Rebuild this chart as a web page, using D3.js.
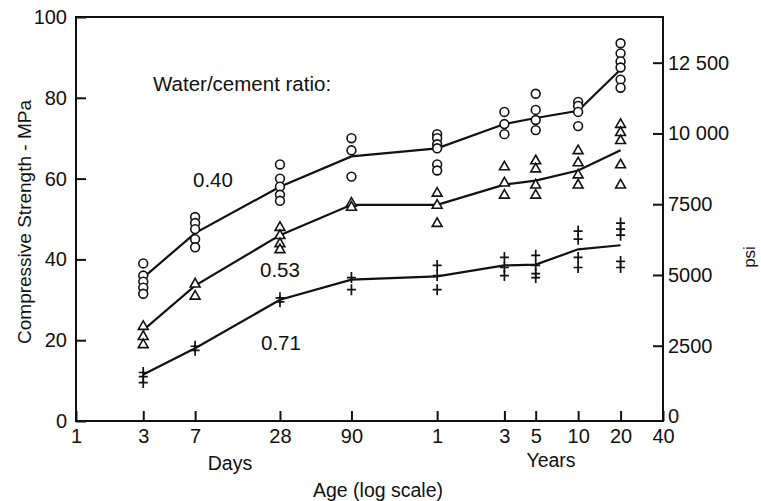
<!DOCTYPE html>
<html>
<head>
<meta charset="utf-8">
<title>compressive strength vs age</title>
<script type="text/javascript" src="https://cdn.jsdelivr.net/npm/d3@7"></script>
<style>
  body { margin: 0; background: #fff; }
  text { font-family: "Liberation Sans", Arial, Helvetica, sans-serif; fill: #111; }
</style>
</head>
<body>
<script type="text/javascript">

// ages in days (1 year = 365 days)
var ages = [3, 7, 28, 90, 365, 1095, 1826, 3652, 7305]
var tickDays = [1, 3, 7, 28, 90, 365, 1095, 1826, 3652, 7305, 14610]
var tickLabels = ["1", "3", "7", "28", "90", "1", "3", "5", "10", "20", "40"]
var mpaTicks = [0, 20, 40, 60, 80, 100]
var psiTicks = [0, 2500, 5000, 7500, 10000, 12500]
var psiLabels = ["0", "2500", "5000", "7500", "10 000", "12 500"]

// mean curves, MPa
var line040 = [35.5, 46.5, 58, 65.5, 67.5, 73.5, 75, 76.8, 87]
var line053 = [22.5, 33.5, 46, 53.5, 53.5, 58.5, 59.5, 62, 67]
var line071 = [11.5, 18, 30, 35, 35.8, 38.5, 38.7, 42.5, 43.5]

// individual results, MPa, one list per age
var pts040 = [[39, 36, 34.5, 33, 31.5], [50.5, 49, 47.5, 45, 43], [63.5, 60, 58, 56, 54.5],
  [70, 67, 60.5], [71, 70, 68.5, 67.5, 63.5, 62], [76.5, 73.5, 71], [81, 77, 74.5, 72],
  [79, 78, 76.5, 73], [93.5, 91, 89, 87.5, 84.5, 82.5]]
var pts053 = [[23.5, 21, 19], [34, 31], [48, 46, 44, 42.5], [54, 53], [56.5, 53.5, 49],
  [63, 59, 56], [64.5, 62.5, 58.5, 56], [67, 64, 61, 58.5], [73.5, 71.5, 69.5, 63.5, 58.5]]
var pts071 = [[12, 11, 9.5], [18.5, 17.5], [30.5, 29.5], [35.5, 32.5], [38.5, 36, 32.5],
  [40.5, 38, 36], [41, 38.5, 36.5, 35.5], [47, 45, 40.5, 38], [49, 47.5, 46, 39.5, 38]]

drawChart()

function drawChart() {
  var w = 761, h = 501
  var pl = 76, pr = 663, pt = 17, pb = 421

  var svg = d3.select("body").append("svg").attr("width", w).attr("height", h)

  var x = d3.scaleLog().domain([1, 14610]).range([pl, pr])
  var y = d3.scaleLinear().domain([0, 100]).range([pb, pt])
  var psi = d3.scaleLinear().domain([0, 12500]).range([416.5, 62.7])

  // frame
  svg.append("rect")
    .attr("x", pl).attr("y", pt)
    .attr("width", pr - pl).attr("height", pb - pt)
    .attr("fill", "none").attr("stroke", "#111").attr("stroke-width", 2)

  var gl = svg.append("g").attr("transform", "translate(" + pl + ",0)")
    .call(d3.axisLeft(y).tickValues(mpaTicks).tickSize(-10).tickSizeOuter(0).tickPadding(9))
  var gb = svg.append("g").attr("transform", "translate(0," + pb + ")")
    .call(d3.axisBottom(x).tickValues(tickDays).tickSize(-10).tickSizeOuter(0).tickPadding(8)
      .tickFormat(function(d, i) { return tickLabels[i] }))
  var gr = svg.append("g").attr("transform", "translate(" + pr + ",0)")
    .call(d3.axisRight(psi).tickValues(psiTicks).tickSize(-10).tickSizeOuter(0).tickPadding(5)
      .tickFormat(function(d, i) { return psiLabels[i] }))

  gr.selectAll(".tick").filter(function(d) { return d == 0 }).select("line").remove()

  ;[gl, gb, gr].forEach(function(g) {
    g.select(".domain").remove()
    g.selectAll(".tick line").attr("stroke", "#111").attr("stroke-width", 2)
    g.selectAll(".tick text").style("font-size", "20px").attr("fill", "#111")
  })

  // mean lines
  var line = d3.line()
    .x(function(d, i) { return x(ages[i]) })
    .y(function(d) { return y(d) })

  ;[line040, line053, line071].forEach(function(s) {
    svg.append("path").datum(s)
      .attr("d", line)
      .attr("fill", "none").attr("stroke", "#111").attr("stroke-width", 2.2)
  })

  function flat(pts) {
    var out = []
    pts.forEach(function(list, i) {
      list.forEach(function(v) { out.push({ age: ages[i], v: v }) })
    })
    return out
  }

  svg.selectAll(".c040").data(flat(pts040)).enter().append("circle")
    .attr("class", "c040")
    .attr("cx", function(d) { return x(d.age) })
    .attr("cy", function(d) { return y(d.v) })
    .attr("r", 4.4)
    .attr("fill", "#fff").attr("stroke", "#111").attr("stroke-width", 1.6)

  var tri = d3.symbol().type(d3.symbolTriangle).size(42)
  svg.selectAll(".t053").data(flat(pts053)).enter().append("path")
    .attr("class", "t053")
    .attr("d", tri)
    .attr("transform", function(d) { return "translate(" + x(d.age) + "," + (y(d.v) + 0.5) + ")" })
    .attr("fill", "#fff").attr("stroke", "#111").attr("stroke-width", 1.6)

  svg.selectAll(".p071").data(flat(pts071)).enter().append("path")
    .attr("class", "p071")
    .attr("d", "M-4.5,0H4.5M0,-5.5V5.5")
    .attr("transform", function(d) { return "translate(" + x(d.age) + "," + y(d.v) + ")" })
    .attr("fill", "none").attr("stroke", "#111").attr("stroke-width", 1.7)

  // labels
  svg.append("text").attr("x", 153).attr("y", 91).style("font-size", "20.5px").text("Water/cement ratio:")
  svg.append("text").attr("x", 193).attr("y", 187).style("font-size", "20.5px").text("0.40")
  svg.append("text").attr("x", 260).attr("y", 277).style("font-size", "20.5px").text("0.53")
  svg.append("text").attr("x", 261).attr("y", 350).style("font-size", "20.5px").text("0.71")

  svg.append("text").attr("x", 230).attr("y", 470).attr("text-anchor", "middle").style("font-size", "19.5px").text("Days")
  svg.append("text").attr("x", 551).attr("y", 467).attr("text-anchor", "middle").style("font-size", "19.5px").text("Years")
  svg.append("text").attr("x", 378).attr("y", 497).attr("text-anchor", "middle").style("font-size", "19.5px").text("Age (log scale)")

  svg.append("text")
    .attr("transform", "translate(31,222) rotate(-90)")
    .attr("text-anchor", "middle").style("font-size", "19px")
    .text("Compressive Strength - MPa")
  svg.append("text")
    .attr("transform", "translate(755,257) rotate(-90)")
    .attr("text-anchor", "middle").style("font-size", "17px")
    .text("psi")
}

</script>
</body>
</html>
